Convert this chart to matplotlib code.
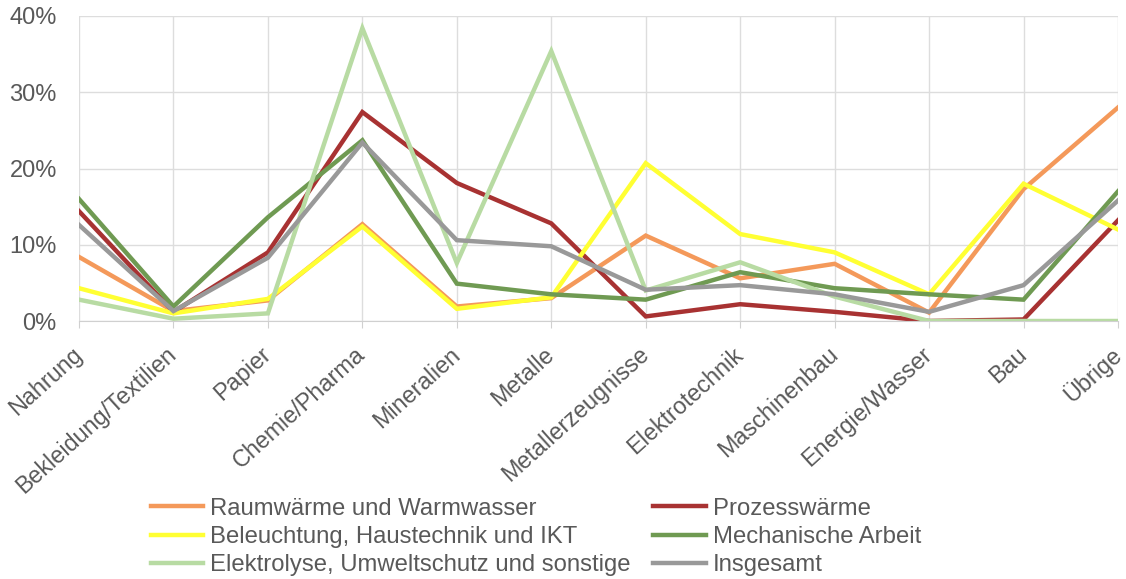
"""Energieverbrauch der Industrie nach Branchen und Anwendungen."""
import matplotlib.pyplot as plt
from matplotlib.ticker import FuncFormatter

plt.rcParams["font.family"] = ["Liberation Sans", "DejaVu Sans"]

branchen = ["Nahrung", "Bekleidung/Textilien", "Papier", "Chemie/Pharma", "Mineralien",
            "Metalle", "Metallerzeugnisse", "Elektrotechnik", "Maschinenbau",
            "Energie/Wasser", "Bau", "Übrige"]

raumwaerme = [8.4, 1.3, 2.7, 12.7, 1.9, 3.0, 11.2, 5.6, 7.5, 1.1, 17.3, 28.0]
prozesswaerme = [14.4, 1.2, 9.0, 27.4, 18.1, 12.8, 0.6, 2.2, 1.2, 0.0, 0.2, 13.2]
beleuchtung = [4.3, 1.0, 2.9, 12.4, 1.6, 3.1, 20.7, 11.4, 9.0, 3.5, 18.0, 12.0]
mechanisch = [16.0, 1.9, 13.6, 23.7, 4.9, 3.5, 2.8, 6.4, 4.3, 3.5, 2.8, 17.0]
elektrolyse = [2.8, 0.3, 1.0, 38.4, 7.6, 35.4, 4.0, 7.7, 3.2, 0.0, 0.0, 0.0]
insgesamt = [12.6, 1.3, 8.3, 23.4, 10.6, 9.8, 4.1, 4.7, 3.5, 1.2, 4.7, 15.8]

serien = [
    ("Raumwärme und Warmwasser", raumwaerme, "#F4995A"),
    ("Prozesswärme", prozesswaerme, "#A83232"),
    ("Beleuchtung, Haustechnik und IKT", beleuchtung, "#FFFF33"),
    ("Mechanische Arbeit", mechanisch, "#6F9A52"),
    ("Elektrolyse, Umweltschutz und sonstige", elektrolyse, "#B8DBA3"),
    ("Insgesamt", insgesamt, "#999999"),
]


def main():
    fig = plt.figure(figsize=(11.26, 5.79), dpi=100)
    ax = fig.add_axes([79 / 1126, 1 - 321 / 579, 1039 / 1126, 305 / 579])

    x = list(range(len(branchen)))
    lines = {}
    for name, values, color in serien:
        (ln,) = ax.plot(x, values, color=color, lw=3.2, label=name, solid_joinstyle="miter")
        lines[name] = ln

    ax.set_xlim(0, len(branchen) - 1)
    ax.set_ylim(0, 40)
    ax.set_yticks([0, 10, 20, 30, 40])
    ax.yaxis.set_major_formatter(FuncFormatter(lambda v, p: f"{v:.0f}%"))
    ax.set_xticks(x)
    ax.set_xticklabels(branchen, rotation=42, ha="right", va="center",
                       rotation_mode="anchor")

    ax.grid(True, color="#DDDDDD", lw=1)
    ax.set_axisbelow(True)
    for side in ["top", "right", "left"]:
        ax.spines[side].set_visible(False)
    ax.spines["bottom"].set_color("#D0D0D0")
    ax.tick_params(axis="y", length=0, pad=16, labelsize=17, labelcolor="#595959")
    ax.tick_params(axis="x", length=5, color="#D0D0D0", pad=17, labelsize=16.8,
                   labelcolor="#595959")

    order = ["Raumwärme und Warmwasser", "Beleuchtung, Haustechnik und IKT",
             "Elektrolyse, Umweltschutz und sonstige", "Prozesswärme",
             "Mechanische Arbeit", "Insgesamt"]
    leg = fig.legend([lines[n] for n in order], order, ncol=2, loc="center",
                     bbox_to_anchor=(536 / 1126, 1 - 537 / 579), frameon=False,
                     fontsize=17.2, handlelength=2.2, handletextpad=0.3,
                     columnspacing=0.95, labelspacing=0.26)
    for t in leg.get_texts():
        t.set_color("#595959")

    fig.savefig("out.png", dpi=100)


if __name__ == "__main__":
    main()
